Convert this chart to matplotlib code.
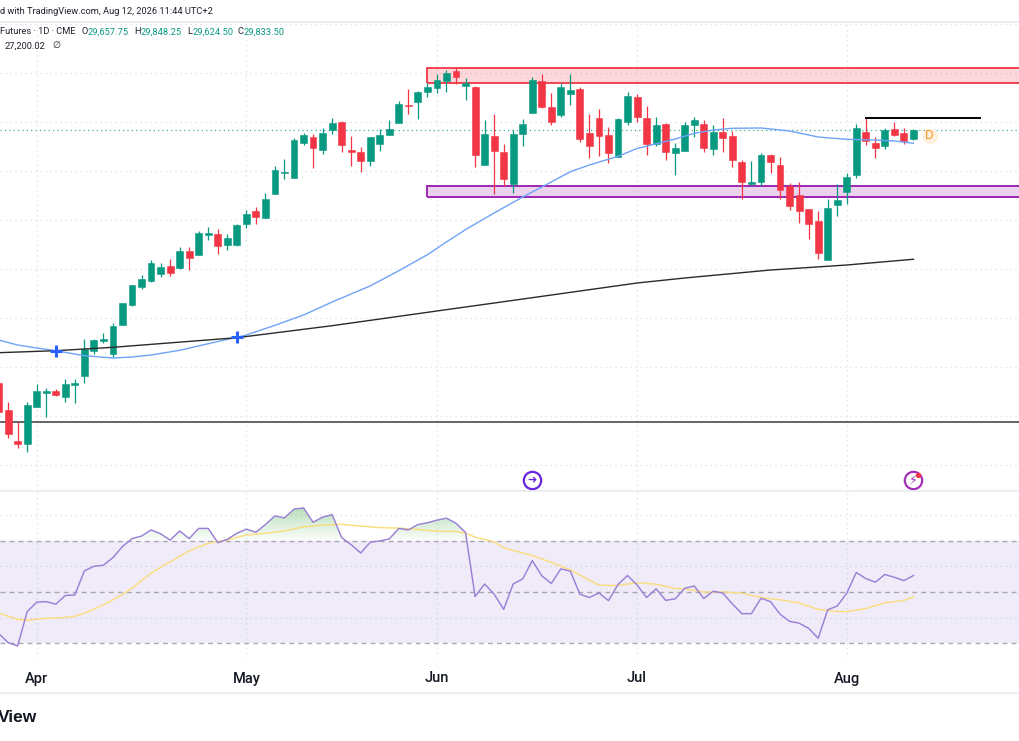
import numpy as np
import matplotlib
matplotlib.use("Agg")
import matplotlib.pyplot as plt
from matplotlib.lines import Line2D
from matplotlib.patches import Rectangle
from matplotlib.path import Path
from matplotlib import font_manager as fm

plt.rcParams['font.family'] = ['Noto Sans', 'DejaVu Sans']
names = {f.name for f in fm.fontManager.ttflist}
HEAD_FONT = 'Liberation Sans Narrow' if 'Liberation Sans Narrow' in names else 'Roboto'
HEAD_SIZE = 8.3 if HEAD_FONT == 'Liberation Sans Narrow' else 6.7

# ---------- data ----------
first_session = -4
opens = [24670,24125,23493,23425,24180,24478,24519,24384,24635,24812,25335,25539,25267,25865,26273,26640,26750,26893,27069,27016,
         27375,27287,27701,27722,27491,27491,27919,28191,28048,28537,28954,28864,29572,29688,29435,29831,30000,29429,29394,29211,
         29545,29729,29974,30347,30414,30618,30694,30837,31041,30741,30708,29129,29721,29394,28735,29749,30190,30843,30312,30143,
         30565,30667,29770,30088,29741,29280,30006,30510,30082,29557,29959,29374,29402,29939,29959,29449,29802,29715,29190,28735,
         28770,29321,29117,28695,28505,28219,27974,27191,28313,28566,28925,29790,29566,29517,29851,29776,29657.75]
highs = [24700,24282,23887,24282,24649,24567,24547,24751,24751,25567,25567,25690,25906,26302,26681,26873,27185,27124,27199,27444,
         27444,27777,27852,27811,27709,27925,28205,28266,28546,29103,29239,29680,29770,29749,29872,30082,30027,29715,29484,29688,
         29851,30041,30423,30673,30639,30790,30980,31061,31096,30898,30728,30041,30157,29551,29837,30061,30924,30979,30592,30790,
         30979,30708,30170,30259,29892,30076,30606,30565,30327,30102,29986,29572,29994,30096,30041,29933,30076,29810,29225,29205,
         29368,29341,29286,28750,28770,28225,28191,28423,28735,28966,29960,30076,29688,29872,29994,29884,29848.25]
lows = [24060,23548,23344,23274,24180,23976,24417,24288,24262,24670,25267,25498,25212,25865,26247,26587,26736,26844,26865,27007,
        26981,27287,27593,27314,27389,27477,27838,27919,28048,28537,28843,28852,29525,29056,29347,29749,29394,29109,28974,29103,
        29409,29729,29974,30169,30061,30516,30592,30618,30769,30455,29088,29129,28531,28695,28558,29517,30190,30286,29939,30108,
        30347,29586,29272,29307,29170,29280,29939,30006,29333,29517,29225,28925,29402,29688,29394,29321,29394,29088,28423,28715,
        28695,28954,28435,28205,27946,27620,27205,27191,28083,28327,28852,29537,29260,29455,29721,29545,29624.50]
closes = [24090,23629,23438,24221,24506,24519,24431,24662,24676,25363,25559,25580,25845,26302,26669,26791,27124,27042,26926,27375,
          27226,27736,27742,27464,27628,27899,28130,28062,28429,29015,28986,29627,29729,29470,29770,29980,29531,29388,29211,29688,
          29741,29851,30374,30333,30612,30708,30863,31006,30918,30802,29321,29762,29402,28843,29762,29959,30863,30300,30000,30720,
          30653,29653,29511,29715,29374,30061,30524,30096,29551,29945,29394,29470,29945,30035,29470,29790,29680,29231,28770,28776,
          29321,29178,28613,28280,28185,27919,27334,28246,28415,28884,29872,29613,29476,29837,29735,29619,29833.50]

ma50_sessions = [-4,-2,0,2,5,8,10,12,15,18,21,22,25,28,31,35,38,41,43,45,48,51,53,56,58,61,63,67,69,71,73,76,79,82,85,88,90,92]
ma50_values = [25553,25451,25390,25335,25233,25186,25206,25247,25343,25478,25608,25655,25853,26063,26328,26657,26967,27293,27554,27805,
               28144,28470,28674,28986,29123,29300,29460,29653,29770,29837,29872,29878,29817,29694,29647,29633,29613,29566]
ma200_sessions = [-4,2,8,21,31,42,51,63,68,77,85,92]
ma200_values = [25294,25335,25404,25600,25845,26145,26389,26716,26818,26981,27083,27200.02]

rsi_values = [33.8,30.2,28.9,42.3,46.0,46.2,45.2,48.6,48.8,58.2,60.0,60.4,63.4,67.7,70.8,71.8,74.2,72.7,70.2,73.8,
              70.8,74.8,74.8,69.2,70.5,72.9,74.5,73.3,76.3,79.7,78.9,82.3,82.8,77.2,79.2,80.2,71.2,68.4,65.2,69.4,
              69.9,70.7,74.8,74.2,76.3,77.0,78.0,78.8,76.8,73.2,48.2,53.1,49.1,43.2,53.1,55.1,62.2,56.3,53.3,59.0,
              58.1,49.1,47.8,49.6,46.6,52.9,56.4,52.7,47.8,51.2,46.7,47.3,51.4,52.3,47.4,50.3,49.5,45.3,41.5,41.5,
              47.5,46.2,41.3,38.5,37.8,35.8,31.9,43.0,44.5,49.5,57.6,55.2,53.8,56.8,55.7,54.4,56.4]
rsi_ma_sessions = [-4,-2,-1,1,3,4,5,7,9,10,12,13,16,18,20,22,24,26,28,30,32,34,36,38,40,42,44,45,46,48,49,52,54,56,59,61,63,65,67,68,70,72,74,76,78,80,82,84,85,87,89,91,92]
rsi_ma_values = [41.7,39.3,38.9,39.7,40.0,40.5,41.7,44.9,49.0,51.4,57.3,59.6,66.0,69.0,70.3,72.2,72.9,73.8,75.4,76.1,76.4,75.7,75.1,74.9,74.4,73.7,73.6,72.9,71.4,69.5,67.2,64.2,61.5,58.6,52.6,52.5,53.6,53.0,51.3,51.2,49.9,50.0,49.5,47.8,46.9,45.7,43.2,42.3,42.3,43.5,45.7,46.7,47.9]

month_sessions = [0, 22, 42, 63, 85]
month_labels = ['Apr', 'May', 'Jun', 'Jul', 'Aug']
price_grid = [23000,24000,25000,26000,27000,28000,29000,30000,31000,32000]
rsi_grid = [40, 60, 80]
rsi_levels = [30, 50, 70]
resistance_zone = (41, 31108, 30796)
support_zone = (41, 28695, 28476)
horizontal_level = 23887
last_close = 29833.50
high_marker = (87, 99, 30076)
crosses_sessions = [2, 21]
crosses_values = [25335, 25608]

# ---------- layout ----------
W, H = 1020, 741
GREEN, RED = '#089981', '#f23645'
fig = plt.figure(figsize=(W/100, H/100), dpi=100, facecolor='white')
def axes_px(top, bottom):
    return fig.add_axes([0, (H-bottom)/H, 1, (bottom-top)/H])
def fx(x): return x/W
def fy(y): return (H-y)/H

ax = axes_px(22, 491)
ar = axes_px(491, 659)
XLIM = (-3.851, 103.18)
for a in (ax, ar):
    a.set_xlim(*XLIM)
    a.set_xticks(month_sessions)
    for s in a.spines.values():
        s.set_visible(False)
    a.grid(True, color='#dcdfe5', linestyle=(0, (1, 3)), linewidth=0.9)
    a.set_axisbelow(True)
    a.tick_params(length=0, labelleft=False, labelbottom=False)
ax.set_ylim(22473, 32040)
ax.set_yticks(price_grid)
ar.set_ylim(23.8, 89.4)
ar.set_yticks(rsi_grid)
ar.set_xticklabels(month_labels)
ar.tick_params(axis='x', labelbottom=True, pad=9, labelsize=10.5, labelcolor='#131722')
for tl in ar.get_xticklabels():
    tl.set_family('Roboto')
    tl.set_fontweight('medium')

# ---------- price pane ----------
sessions = np.arange(first_session, first_session + len(opens))
o, h, l, c = map(np.asarray, (opens, highs, lows, closes))
colors = [GREEN if ci >= oi else RED for oi, ci in zip(o, c)]
ax.axhline(last_close, color=GREEN, linestyle=(0, (1, 2.5)), linewidth=0.9, alpha=0.8, zorder=1.5)
for (start, top, bottom), col, lw in ((resistance_zone, '#f23645', 1.3), (support_zone, '#9c27b0', 1.4)):
    ax.add_patch(Rectangle((start, bottom), XLIM[1]+3-start, top-bottom, facecolor=col, alpha=0.2, edgecolor='none', zorder=2))
    ax.add_patch(Rectangle((start, bottom), XLIM[1]+3-start, top-bottom, facecolor='none', edgecolor=col, linewidth=lw, zorder=2.1))
ax.vlines(sessions, l, h, colors=colors, linewidth=0.9, zorder=3)
ax.bar(sessions, np.abs(c-o), bottom=np.minimum(o, c), width=0.72, color=colors, edgecolor=colors, linewidth=0.4, zorder=3.2)
ax.plot(ma50_sessions, ma50_values, color='#6ea3f7', linewidth=1.0, zorder=4)
ax.plot(ma200_sessions, ma200_values, color='#2a2a2a', linewidth=1.0, zorder=4)
ax.plot(crosses_sessions, crosses_values, linestyle='none', marker='+', color='#2962ff', markersize=8, markeredgewidth=2.2, zorder=5)
ax.axhline(horizontal_level, color='#3a3a3a', linewidth=1.1, zorder=2)
ax.plot(high_marker[:2], [high_marker[2]]*2, color='black', linewidth=1.4, zorder=4)

# event markers
ax.plot([93.7], [29715], marker='o', markersize=11, color='#fff0dd', markeredgewidth=0, zorder=4)
ax.text(93.7, 29715, 'D', color='#f7931a', fontsize=8.5, ha='center', va='center', zorder=5)
ev_y = 22697
ax.plot([52], [ev_y], marker='o', markersize=12.5, markerfacecolor='white', markeredgecolor='#6a24e0', markeredgewidth=1.6, zorder=5, clip_on=False)
ax.text(52, ev_y, '\u279c', color='#6a24e0', fontsize=8, ha='center', va='center', family='DejaVu Sans', zorder=6)
ax.plot([92], [ev_y], marker='o', markersize=12.5, markerfacecolor='white', markeredgecolor='#a42fb8', markeredgewidth=1.6, zorder=5, clip_on=False)
ax.text(92, ev_y, '\u26a1', color='#a42fb8', fontsize=9, ha='center', va='center', family='DejaVu Sans', zorder=6)
ax.plot([92.5], [22793], marker='o', markersize=3.8, color='#f23645', markeredgewidth=0, zorder=7)

# ---------- RSI pane ----------
rsi = np.asarray(rsi_values)
ar.axhspan(rsi_levels[0], rsi_levels[2], color='#7e57c2', alpha=0.115, linewidth=0, zorder=1)
for lv in rsi_levels:
    ar.axhline(lv, color='#9a9ca6', linewidth=1.0, linestyle=(0, (3.5, 3)), zorder=1.5, alpha=0.85)
def gradient(where, lo, hi, rgb, top_alpha, bottom_alpha):
    poly = ar.fill_between(sessions, rsi, (lo if where == 'up' else hi),
                           where=(rsi > lo) if where == 'up' else (rsi < hi),
                           interpolate=True, facecolor='none', linewidth=0)
    path = Path.make_compound_path(*poly.get_paths())
    img = np.zeros((64, 2, 4))
    img[..., :3] = rgb
    img[..., 3] = np.linspace(top_alpha, bottom_alpha, 64)[:, None]
    im = ar.imshow(img, extent=[XLIM[0], XLIM[1], lo, hi], aspect='auto', zorder=1.8, interpolation='bilinear')
    im.set_clip_path(path, transform=ar.transData)
gradient('up', 70, 84, (0.30, 0.69, 0.31), 0.42, 0.02)
gradient('down', 26, 30, (0.95, 0.21, 0.27), 0.02, 0.25)
ar.set_xlim(*XLIM)
ar.set_ylim(23.8, 89.4)
ar.plot(rsi_ma_sessions, rsi_ma_values, color='#fbdc7a', linewidth=1.0, zorder=3)
ar.plot(sessions, rsi, color='#9a80d6', linewidth=1.05, zorder=3.2)

# ---------- chrome ----------
for y in (21.5, 491, 693):
    fig.add_artist(Line2D([0, 1], [fy(y), fy(y)], color='#e8eaef', linewidth=1.1))
DARK = '#1e222d'
def t(x, y, s, color=DARK, size=HEAD_SIZE, family=HEAD_FONT, **kw):
    fig.text(fx(x), fy(y), s, color=color, fontsize=size, family=family, va='center', ha='left', **kw)
t(0, 11.5, 'd with TradingView.com, Aug 12, 2026 11:44 UTC+2')
t(0, 32, 'Futures \u00b7 1D \u00b7 CME')
for lx, label, vx, val in ((82, 'O', 88, '29,657.75'), (134, 'H', 141, '29,848.25'),
                           (187, 'L', 193, '29,624.50'), (238, 'C', 244, '29,833.50')):
    t(lx, 32, label)
    t(vx, 32, val, color=GREEN)
t(5, 46, '27,200.02')
t(52, 46, '\u2205', family='DejaVu Sans')
t(-2, 717, 'View', size=12.5, family='Liberation Sans', fontweight='bold', color='#131722')

fig.savefig('out.png', dpi=100)
